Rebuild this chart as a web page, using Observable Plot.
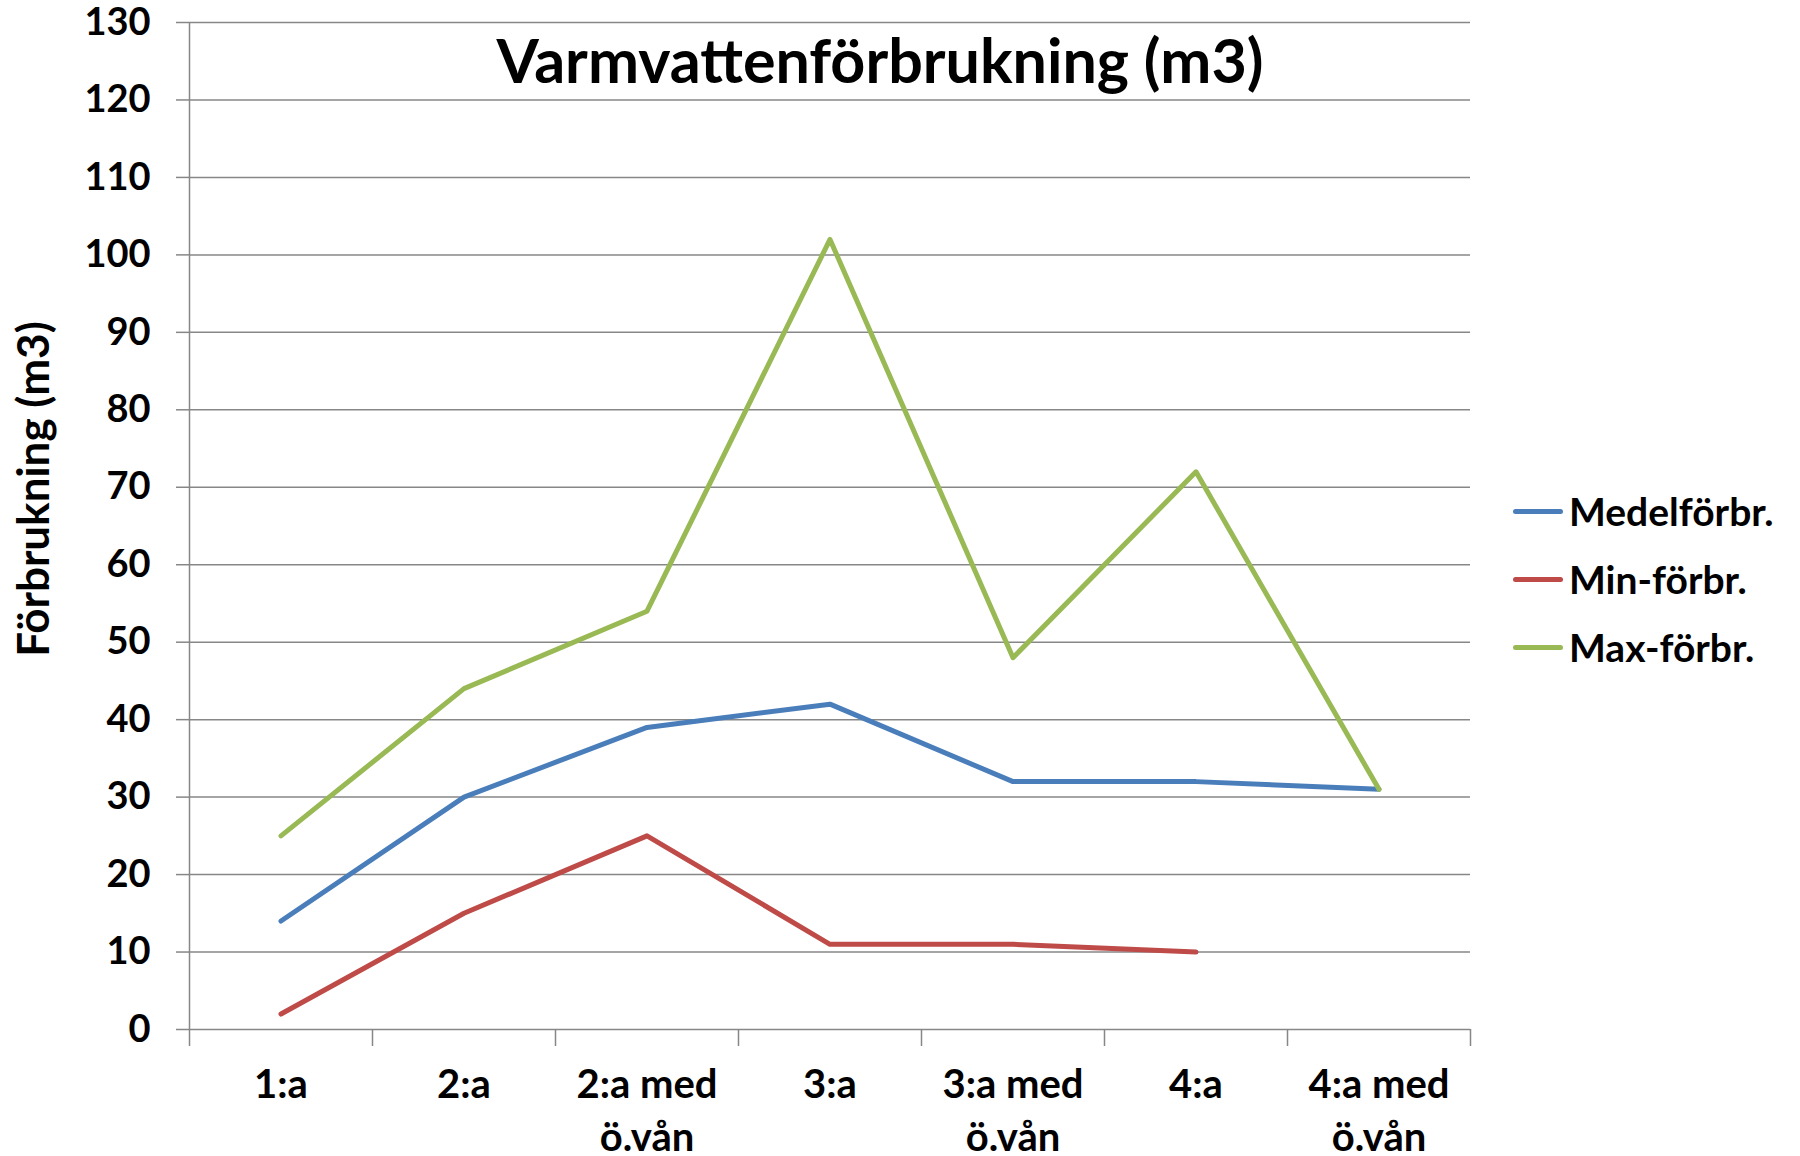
<!DOCTYPE html>
<html><head><meta charset="utf-8">
<script src="https://cdn.jsdelivr.net/npm/d3@7"></script>
<script src="https://cdn.jsdelivr.net/npm/@observablehq/plot@0.6"></script>
<style>
body{margin:0;background:#fff;font-family:Lato,"Open Sans",sans-serif;}
#wrap{position:relative;width:1800px;height:1156px;overflow:hidden;}
#wrap svg{overflow:visible;}
#legend{position:absolute;left:1513px;top:477px;font:bold 39px Lato,sans-serif;color:#000;}
.item{display:flex;align-items:center;height:68px;}
.sw{width:50px;height:5px;border-radius:2.5px;margin-right:6px;}
</style></head><body><div id="wrap"></div>
<script>
const categories = ["1:a","2:a","2:a med ö.vån","3:a","3:a med ö.vån","4:a","4:a med ö.vån"];
const medelValues = [14,30,39,42,32,32,31];
const minValues = [2,15,25,11,11,10,null];
const maxValues = [25,44,54,102,48,72,31];
const seriesNames = ["Medelförbr.","Min-förbr.","Max-förbr."];
const seriesColors = ["#4A7EBB","#BE4B48","#98B954"];
const yTicks = d3.range(0,131,10);
const titleText = "Varmvattenförbrukning (m3)";
const yLabel = "Förbrukning (m3)";

const seriesValues = [medelValues, minValues, maxValues];
const rows = [];
seriesNames.forEach((s, k) => {
  categories.forEach((c, i) => {
    const v = seriesValues[k][i];
    if (v != null) rows.push({series: s, cat: c, i, value: v});
  });
});

const grid = "#878787";
const chart = Plot.plot({
  width: 1800, height: 1156,
  marginLeft: 189, marginRight: 330, marginTop: 22, marginBottom: 127,
  style: {fontFamily: "Lato, sans-serif", fontWeight: "bold", fontSize: "38px", color: "#000", background: "#fff"},
  x: {type: "linear", domain: [0, categories.length]},
  y: {domain: [0, 130]},
  color: {domain: seriesNames, range: seriesColors},
  marks: [
    Plot.ruleY(yTicks, {stroke: grid, strokeWidth: 1.5}),
    Plot.ruleX([0], {stroke: grid, strokeWidth: 1.5}),
    Plot.axisY({ticks: yTicks, tickSize: 13, tickPadding: 26, label: null, stroke: grid, strokeWidth: 1.5, fill: "#000", fontSize: 38, fontWeight: "bold"}),
    Plot.axisX({ticks: d3.range(0, categories.length + 1), tickSize: 17, tickFormat: () => "", label: null, stroke: grid, strokeWidth: 1.5}),
    Plot.text(categories, {x: (d, i) => i + 0.5, frameAnchor: "bottom", text: d => d.replace(" ö.vån", "\nö.vån"), dy: 31, lineAnchor: "top", lineHeight: 1.33, fontSize: 40, fontWeight: "bold", fill: "#000"}),
    Plot.line(rows, {x: d => d.i + 0.5, y: "value", z: "series", stroke: "series", strokeWidth: 5, strokeLinecap: "round", strokeLinejoin: "round"}),
    Plot.text([titleText], {frameAnchor: "top", dx: 50, dy: 41, lineAnchor: "middle", fontSize: 61, fontWeight: "bold", fill: "#000"}),
    Plot.text([yLabel], {frameAnchor: "left", textAnchor: "middle", rotate: -90, dx: -155, dy: -37, lineAnchor: "middle", fontSize: 44, fontWeight: "bold", fill: "#000"})
  ]
});
const wrap = document.getElementById("wrap");
wrap.appendChild(chart);
const legend = document.createElement("div");
legend.id = "legend";
seriesNames.forEach((s, k) => {
  const it = document.createElement("div");
  it.className = "item";
  const sw = document.createElement("div");
  sw.className = "sw";
  sw.style.background = seriesColors[k];
  const t = document.createElement("span");
  t.textContent = s;
  it.appendChild(sw); it.appendChild(t);
  legend.appendChild(it);
});
wrap.appendChild(legend);
</script></body></html>
